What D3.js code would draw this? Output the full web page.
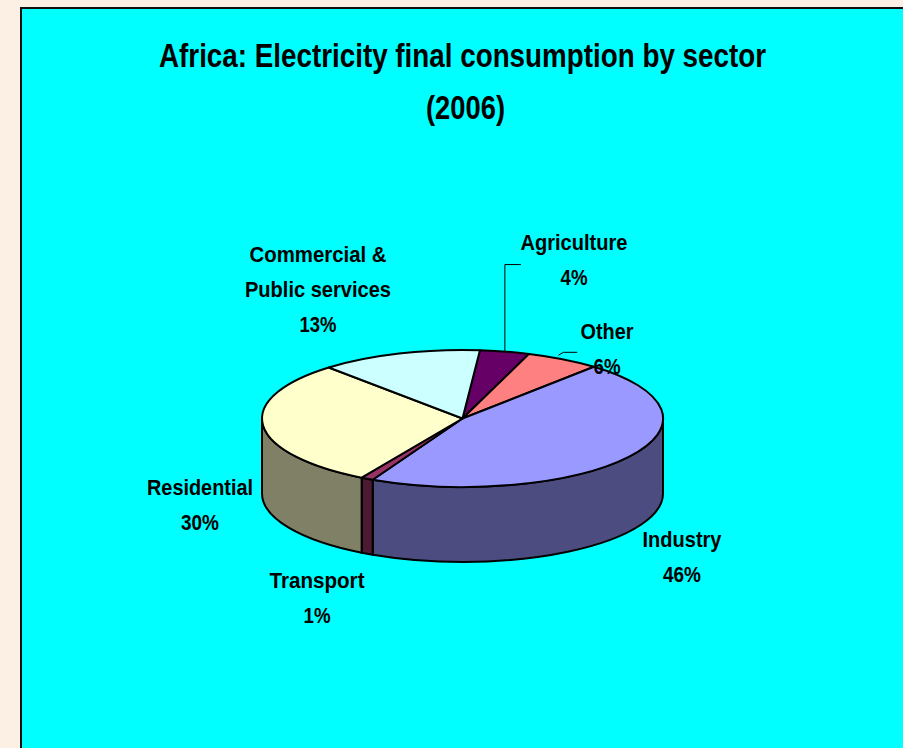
<!DOCTYPE html>
<html>
<head>
<meta charset="utf-8">
<script src="https://cdn.jsdelivr.net/npm/d3@7"></script>
<style>
  html, body { margin: 0; padding: 0; background: #FCF0E4; }
  svg { display: block; }
  text { font-family: "Liberation Sans", Arial, sans-serif; font-weight: bold; fill: #000; }
</style>
</head>
<body>
<svg id="chart" width="903" height="748"></svg>
<script>
// Sector shares of final electricity consumption (percent)
const categories = ["Agriculture", "Other", "Industry", "Transport", "Residential", "Commercial & Public services"];
const values = [4, 6, 46, 1, 30, 13];
const titleLines = ["Africa: Electricity final consumption by sector", "(2006)"];

// Face colours: top surface and darker rim
const topColors  = ["#660066", "#FF8080", "#9999FF", "#993366", "#FFFFCC", "#CCFFFF"];
const sideColors = ["#330033", "#804040", "#4C4C80", "#4D1A33", "#808066", "#668080"];

// Layout of the tilted pie
const cx = 462.5, cy = 418.5, rx = 200.5, ry = 68.5, depth = 75;
const startDeg = 5;

// Label placement: text lines, anchor, per-line widths
const labelLayout = {
  "Agriculture":                  { x: 574, y: 250, lines: ["Agriculture", "4%"], widths: [107, 27], leader: [[0, 0], [0, -87], [16, -87]] },
  "Other":                        { x: 607, y: 339, lines: ["Other", "6%"], widths: [53, 27], leader: [[-5, -4], [0, -7], [14, -7]] },
  "Industry":                     { x: 682, y: 547, lines: ["Industry", "46%"], widths: [79, 38] },
  "Transport":                    { x: 317, y: 588, lines: ["Transport", "1%"], widths: [95, 27] },
  "Residential":                  { x: 200, y: 495, lines: ["Residential", "30%"], widths: [106, 38] },
  "Commercial & Public services": { x: 318, y: 262, lines: ["Commercial &", "Public services", "13%"], widths: [137, 146, 37] }
};
const lineGap = 35;

const svg = d3.select("#chart");

// Panel
svg.append("rect")
  .attr("x", 21).attr("y", 8)
  .attr("width", 903).attr("height", 760)
  .attr("fill", "#00FFFF")
  .attr("stroke", "#111").attr("stroke-width", 2);

// Title
const title = svg.append("text").attr("text-anchor", "middle").style("font-size", "34px");
title.append("tspan").attr("x", 462.5).attr("y", 67)
  .attr("textLength", 607).attr("lengthAdjust", "spacingAndGlyphs").text(titleLines[0]);
title.append("tspan").attr("x", 465.5).attr("y", 119)
  .attr("textLength", 79).attr("lengthAdjust", "spacingAndGlyphs").text(titleLines[1]);

// Pie angles
const rad = d => d * Math.PI / 180;
const pie = d3.pie().sort(null).value(d => d)
  .startAngle(rad(startDeg)).endAngle(rad(startDeg + 360));
const arcs = pie(values);

const pt = (a, dy = 0) => [cx + rx * Math.sin(a), cy - ry * Math.cos(a) + dy];
const f = v => v.toFixed(2);

// Rim (side walls) for the front half
const sides = svg.append("g");
arcs.forEach((d, i) => {
  const a0 = Math.max(d.startAngle, Math.PI / 2);
  const a1 = Math.min(d.endAngle, Math.PI * 1.5);
  if (a0 >= a1) return;
  const p0 = pt(a0), p1 = pt(a1), q1 = pt(a1, depth), q0 = pt(a0, depth);
  const path = `M${f(p0[0])},${f(p0[1])} A${rx},${ry} 0 0 1 ${f(p1[0])},${f(p1[1])} ` +
               `L${f(q1[0])},${f(q1[1])} A${rx},${ry} 0 0 0 ${f(q0[0])},${f(q0[1])} Z`;
  sides.append("path")
    .attr("d", path)
    .attr("fill", sideColors[i])
    .attr("stroke", "#000").attr("stroke-width", 2).attr("stroke-linejoin", "round");
});

// Top surface
const arcGen = d3.arc().innerRadius(0).outerRadius(1);
svg.append("g")
  .attr("transform", `translate(${cx},${cy}) scale(${rx},${ry})`)
  .selectAll("path")
  .data(arcs)
  .join("path")
  .attr("d", arcGen)
  .attr("fill", (d, i) => topColors[i])
  .attr("stroke", "#000").attr("stroke-width", 2)
  .attr("stroke-linejoin", "round")
  .attr("vector-effect", "non-scaling-stroke");

// Leader lines from slice rim
arcs.forEach((d, i) => {
  const lay = labelLayout[categories[i]];
  if (!lay.leader) return;
  const mid = (d.startAngle + d.endAngle) / 2;
  const base = pt(mid);
  const pts = lay.leader.map(([dx, dy]) => [base[0] + dx, base[1] + dy]);
  svg.append("path")
    .attr("d", d3.line()(pts))
    .attr("fill", "none").attr("stroke", "#000").attr("stroke-width", 1);
});

// Data labels
categories.forEach((c, i) => {
  const lay = labelLayout[c];
  const t = svg.append("text").attr("text-anchor", "middle").style("font-size", "22px");
  lay.lines.forEach((s, k) => {
    t.append("tspan")
      .attr("x", lay.x).attr("y", lay.y + k * lineGap)
      .attr("textLength", lay.widths[k]).attr("lengthAdjust", "spacingAndGlyphs")
      .text(k === lay.lines.length - 1 ? `${values[i]}%` : s);
  });
});
</script>
</body>
</html>
